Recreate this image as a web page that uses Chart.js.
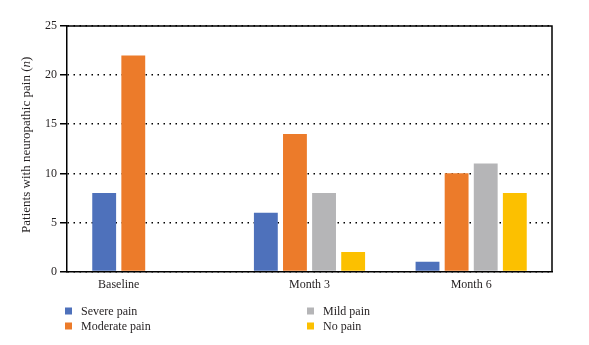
<!DOCTYPE html>
<html>
<head>
<meta charset="utf-8">
<script src="https://cdn.jsdelivr.net/npm/chart.js@4/dist/chart.umd.min.js"></script>
<style>
  body { margin: 0; background: #fff; }
  canvas { display: block; }
</style>
</head>
<body>
<canvas id="painChart" width="589" height="345"></canvas>
<script>
'use strict'

// visits and patient counts per pain level (null = not shown)
const periods = ['Baseline', 'Month 3', 'Month 6'];
const severePain = [8, 6, 1];
const moderatePain = [22, 14, 10];
const mildPain = [null, 8, 11];
const noPain = [null, 2, 8];
const yTicks = [0, 5, 10, 15, 20, 25];

const serif = 'Liberation Serif, "DejaVu Serif", serif';
const textColor = '#231f20';

// x labels sit under the bars that are actually drawn for each visit
const xLabels = {
  id: 'xLabels',
  afterDraw(chart) {
    let ctx = chart.ctx;
    let area = chart.chartArea;
    ctx.save();
    ctx.font = '12px ' + serif;
    ctx.fillStyle = textColor;
    ctx.textAlign = 'center';
    ctx.textBaseline = 'alphabetic';
    for (let i = 0; i < periods.length; i++) {
      let xs = [];
      chart.data.datasets.forEach(function (ds, d) {
        if (ds.data[i] !== null) {
          xs.push(chart.getDatasetMeta(d).data[i].x);
        }
      });
      let centre = (Math.min(...xs) + Math.max(...xs)) / 2;
      ctx.fillText(periods[i], centre, area.bottom + 16);
    }
    ctx.restore();
  }
};

// closes the plot box on the top and right
const frame = {
  id: 'frame',
  afterDraw(chart) {
    let ctx = chart.ctx;
    let a = chart.chartArea;
    ctx.save();
    ctx.strokeStyle = '#000';
    ctx.lineWidth = 1.5;
    ctx.beginPath();
    ctx.moveTo(a.left, a.top);
    ctx.lineTo(a.right, a.top);
    ctx.lineTo(a.right, a.bottom);
    ctx.stroke();
    ctx.restore();
  }
};

// y title with the italic n
const yTitle = {
  id: 'yTitle',
  afterDraw(chart) {
    let ctx = chart.ctx;
    let a = chart.chartArea;
    let main = 'Patients with neuropathic pain (';
    let size = '13px ';
    ctx.save();
    ctx.fillStyle = textColor;
    ctx.textBaseline = 'middle';
    ctx.font = size + serif;
    let w1 = ctx.measureText(main).width;
    let w3 = ctx.measureText(')').width;
    ctx.font = 'italic ' + size + serif;
    let w2 = ctx.measureText('n').width;
    let total = w1 + w2 + w3;
    ctx.translate(27, (a.top + a.bottom) / 2 - 4);
    ctx.rotate(-Math.PI / 2);
    ctx.textAlign = 'left';
    ctx.font = size + serif;
    ctx.fillText(main, -total / 2, 0);
    ctx.font = 'italic ' + size + serif;
    ctx.fillText('n', -total / 2 + w1, 0);
    ctx.font = size + serif;
    ctx.fillText(')', -total / 2 + w1 + w2, 0);
    ctx.restore();
  }
};

// two-column legend under the plot, built from the datasets
const gridLegend = {
  id: 'gridLegend',
  afterDraw(chart) {
    let ctx = chart.ctx;
    let a = chart.chartArea;
    let colX = [a.left - 2, a.left + 240];
    let rowY = [311, 326];
    ctx.save();
    ctx.font = '12px ' + serif;
    ctx.fillStyle = textColor;
    ctx.textBaseline = 'middle';
    chart.data.datasets.forEach(function (ds, i) {
      let x = colX[Math.floor(i / 2)];
      let y = rowY[i % 2];
      ctx.fillStyle = ds.backgroundColor;
      ctx.fillRect(x, y - 3.5, 7, 7);
      ctx.fillStyle = textColor;
      ctx.fillText(ds.label, x + 16, y + 1);
    });
    ctx.restore();
  }
};

let canvasChart = document.getElementById('painChart');

const data = {
  labels: periods,
  datasets: [
    { label: 'Severe pain', data: severePain, backgroundColor: '#4e71bb' },
    { label: 'Moderate pain', data: moderatePain, backgroundColor: '#ec7b2a' },
    { label: 'Mild pain', data: mildPain, backgroundColor: '#b5b5b7' },
    { label: 'No pain', data: noPain, backgroundColor: '#fcc000' }
  ]
};

const config = {
  type: 'bar',
  data: data,
  options: {
    responsive: false,
    animation: false,
    layout: { padding: { left: 42, right: 37, top: 26, bottom: 51 } },
    datasets: { bar: { categoryPercentage: 0.72, barPercentage: 0.82 } },
    plugins: {
      legend: { display: false },
      tooltip: { enabled: false }
    },
    scales: {
      x: {
        grid: { display: false, drawTicks: false },
        border: { color: '#000', width: 1.5 },
        ticks: { color: 'rgba(0,0,0,0)', font: { family: serif, size: 12 }, padding: 4 }
      },
      y: {
        min: 0,
        max: 25,
        afterBuildTicks: function (axis) {
          axis.ticks = yTicks.map(function (v) { return { value: v }; });
        },
        ticks: { color: textColor, font: { family: serif, size: 12 }, padding: 3 },
        grid: { color: '#000', lineWidth: 1.5, tickLength: 7, tickColor: '#000', tickWidth: 1.5, tickBorderDash: [] },
        border: { color: '#000', width: 1.5, dash: [1.5, 4.5] }
      }
    }
  },
  plugins: [xLabels, frame, yTitle, gridLegend]
};

const painChart = new Chart(canvasChart, config);
</script>
</body>
</html>
